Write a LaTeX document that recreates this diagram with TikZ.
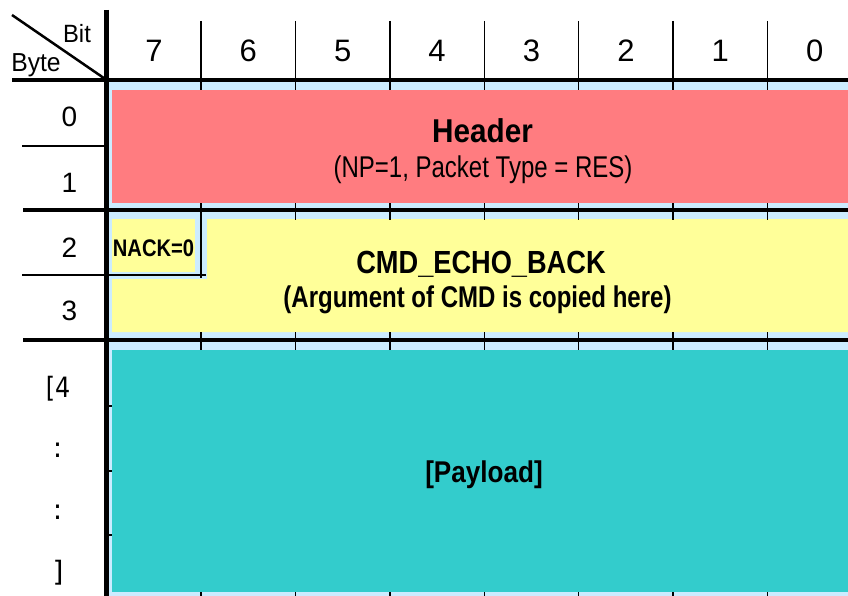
\documentclass[tikz,border=0pt]{standalone}
\usepackage{fontspec}
\setmainfont{Liberation Sans}
\newfontfamily\dvfont{DejaVu Sans}
\definecolor{lblue}{HTML}{CCECFF}
\definecolor{hred}{HTML}{FF7C80}
\definecolor{hyel}{HTML}{FFFF99}
\definecolor{hcyan}{HTML}{33CCCC}
\begin{document}
\begin{tikzpicture}[x=1pt,y=-1pt,
  thickrule/.style={line width=4pt},
  thinrule/.style={line width=1.5pt},
  lbl/.style={anchor=base,inner sep=0pt},
  coltxt/.style={lbl,font=\fontsize{31}{31}\selectfont},
  rowtxt/.style={lbl,font=\fontsize{28}{28}\selectfont},
  boldtxt/.style={lbl,font=\bfseries\fontsize{#1}{#1}\selectfont}]
\useasboundingbox (0,0) rectangle (848,596);
\fill[white] (0,0) rectangle (848,596);
% backgrounds
\fill[lblue] (106,80) rectangle (848,596);
\fill[hred] (112,90) rectangle (848,203);
\fill[hyel] (112,219) rectangle (195,272);
\fill[hyel] (207,219) -- (848,219) -- (848,332) -- (112,332) -- (112,279) -- (207,279) -- cycle;
\fill[hcyan] (112,350) rectangle (848,592);
% column lines and ticks
\foreach \k in {1,...,7} {
  \pgfmathsetmacro{\xx}{106.7+94.4*\k}
  \draw[thinrule] (\xx,21) -- (\xx,90);
  \draw[thinrule] (\xx,332) -- (\xx,350);
  \draw[thinrule] (\xx,592) -- (\xx,600);
}
\foreach \k in {2,...,7} {
  \pgfmathsetmacro{\xx}{106.7+94.4*\k}
  \draw[thinrule] (\xx,203) -- (\xx,220);
}
\draw[thinrule] (201.1,203) -- (201.1,278);
% thin row lines
\draw[thinrule] (22,146) -- (106,146);
\draw[thinrule] (22,275) -- (206,275);
% left ticks in payload rows
\foreach \yy in {406,471,535} \draw[thinrule] (104,\yy) -- (112,\yy);
% thick rules
\draw[thickrule] (12,80) -- (848,80);
\draw[thickrule] (23,210) -- (848,210);
\draw[thickrule] (23,340) -- (848,340);
\draw[line width=4.5pt] (106.7,10) -- (106.7,600);
\draw[line width=2.5pt] (12,15) -- (106.7,80);
% header texts
\node[lbl,font=\fontsize{25}{25}\selectfont,xscale=0.95] (bit) at (77,43) {Bit};
\node[lbl,font=\fontsize{26}{26}\selectfont,xscale=0.95] (byte) at (36,72) {Byte};
\foreach \b [count=\i from 0] in {7,6,5,4,3,2,1,0} {
  \pgfmathsetmacro{\xx}{106.7+94.4*(\i+0.5)}
  \node[coltxt] (col\b) at (\xx,62) {\b};
}
\node[rowtxt] (r0) at (69.5,127) {0};
\node[rowtxt] (r1) at (69.5,193) {1};
\node[rowtxt] (r2) at (69.5,257) {2};
\node[rowtxt] (r3) at (69.5,320) {3};
\node[lbl,font=\dvfont\fontsize{28}{28}\selectfont,xscale=0.85] (r4) at (58,397) {[4};
\node[lbl,font=\dvfont\fontsize{28}{28}\selectfont] (r5) at (57.5,457) {:};
\node[lbl,font=\dvfont\fontsize{28}{28}\selectfont] (r6) at (57.5,519) {:};
\node[lbl,font=\dvfont\fontsize{28}{28}\selectfont] (r7) at (58,581) {]};
% field texts
\node[boldtxt=33,xscale=0.9] (hdr) at (482.5,143) {Header};
\node[lbl,font=\fontsize{30}{30}\selectfont,xscale=0.8] (hdrsub) at (483,178) {(NP=1, Packet Type = RES)};
\node[boldtxt=24,xscale=0.84] (nack) at (153.5,256) {NACK=0};
\node[boldtxt=32,xscale=0.85] (cmd) at (481,273) {CMD\_ECHO\_BACK};
\node[boldtxt=30,xscale=0.8] (cmdsub) at (477.5,307) {(Argument of CMD is copied here)};
\node[boldtxt=30,xscale=0.87] (pay) at (484,482) {[Payload]};
\end{tikzpicture}
\end{document}
